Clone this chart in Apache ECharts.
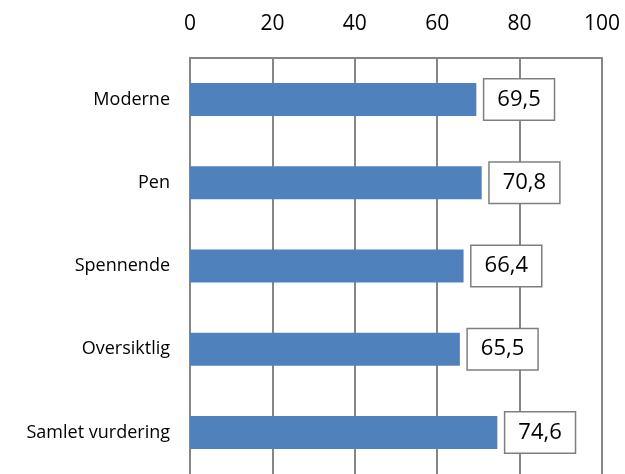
<!DOCTYPE html>
<html>
<head>
<meta charset="utf-8">
<script src="https://cdn.jsdelivr.net/npm/echarts@6/dist/echarts.min.js"></script>
<style>
  html, body { margin: 0; padding: 0; background: #fff; }
  #chart { width: 625px; height: 474px; }
</style>
</head>
<body>
<div id="chart"></div>
<script>
// kategorier og verdier
const categories = ['Moderne', 'Pen', 'Spennende', 'Oversiktlig', 'Samlet vurdering'];
const values = [69.5, 70.8, 66.4, 65.5, 74.6];
const ticks = [0, 20, 40, 60, 80, 100];

const chart = echarts.init(document.getElementById('chart'));
const gridColor = '#868686';

chart.setOption({
  animation: false,
  textStyle: { fontFamily: 'Open Sans' },
  grid: {
    left: 190,
    right: 23,
    top: 58,
    height: 422
  },
  xAxis: {
    type: 'value',
    position: 'top',
    min: ticks[0],
    max: ticks[ticks.length - 1],
    interval: 20,
    axisLine: { show: true, lineStyle: { color: gridColor, width: 2 } },
    axisTick: { show: false },
    axisLabel: { color: '#000', fontSize: 21, margin: 23 },
    splitLine: { show: true, lineStyle: { color: gridColor, width: 2 } }
  },
  yAxis: {
    type: 'category',
    inverse: true,
    data: categories,
    axisLine: { show: true, lineStyle: { color: gridColor, width: 2 } },
    axisTick: { show: false },
    axisLabel: { color: '#000', fontSize: 18, margin: 20 }
  },
  series: [
    {
      type: 'bar',
      data: values,
      barWidth: 33,
      itemStyle: { color: '#4F81BD' },
      label: {
        show: true,
        position: 'right',
        distance: 8,
        color: '#000',
        fontSize: 22,
        lineHeight: 24,
        backgroundColor: '#fff',
        borderColor: '#7f7f7f',
        borderWidth: 1.5,
        padding: [8, 13, 8, 13],
        formatter: p => p.value.toFixed(1).replace('.', ',')
      }
    }
  ]
});
</script>
</body>
</html>
